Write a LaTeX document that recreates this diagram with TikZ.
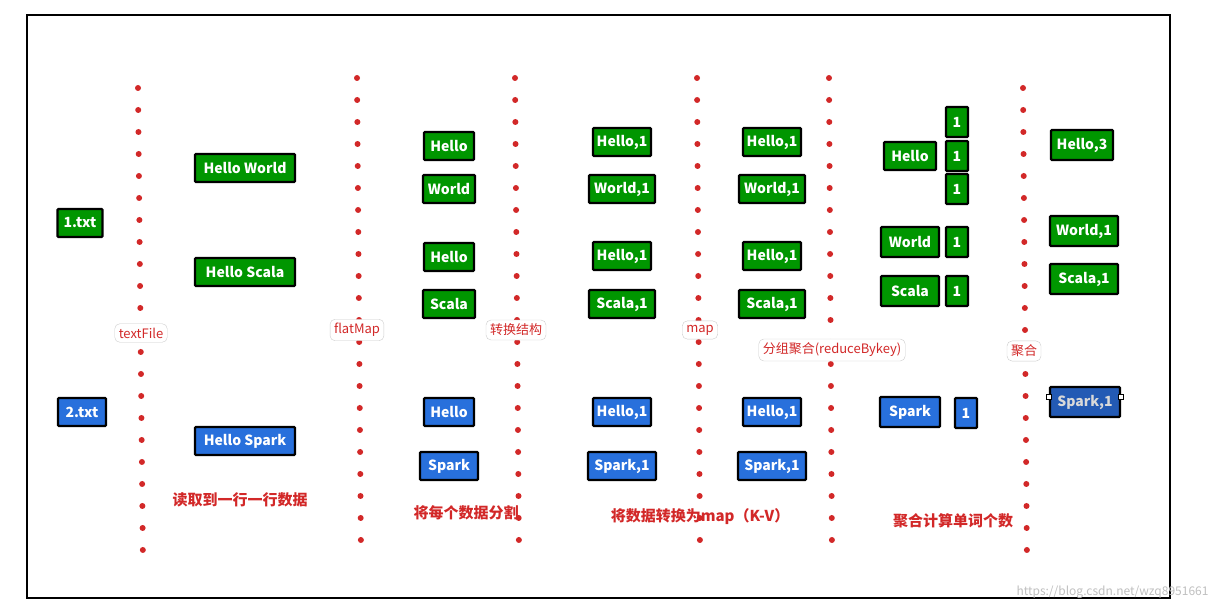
\documentclass[tikz,border=0pt]{standalone}
\usepackage{fontspec}
\setmainfont{Noto Sans CJK SC}
\definecolor{gr}{RGB}{0,150,0}
\definecolor{bl}{RGB}{40,112,220}
\definecolor{dbl}{RGB}{35,90,180}
\definecolor{rd}{RGB}{210,40,40}
\tikzset{
  box/.style={draw=black,line width=2.2pt,text=white,font=\fontsize{14}{16}\selectfont\bfseries,inner sep=0pt,minimum height=28pt,rounded corners=1pt},
  g/.style={box,fill=gr},
  b/.style={box,fill=bl},
  sep/.style={draw=rd,line width=6pt,line cap=round,dash pattern=on 0pt off 22pt},
  op/.style={draw=black!20,fill=white,rounded corners=5pt,text=rd,font=\fontsize{13}{15}\selectfont,inner sep=4pt},
  caption/.style={text=rd,font=\fontsize{15}{17}\selectfont\bfseries}
}
\begin{document}
\begin{tikzpicture}[x=1pt,y=-1pt]
\useasboundingbox (0,0) rectangle (1219,610);
\draw[line width=2pt] (27,15) rectangle (1170,598);
% separators
\foreach \a/\b/\ya/\yb in {138/143/88/565,357/361/78/555,515/519/78/555,697/700/78/555,829/832/78/555,1023/1027/88/565}
  \draw[sep] (\a,\ya) -- (\b,\yb);
% column 0
\node[g,minimum width=45pt] (f1) at (80,223) {1.txt};
\node[b,minimum width=48pt] (f2) at (82,412) {2.txt};
% column 1
\node[g,minimum width=100pt] (l1) at (245,168) {Hello World};
\node[g,minimum width=100pt] (l2) at (245,272) {Hello Scala};
\node[b,minimum width=100pt] (l3) at (245,441) {Hello Spark};
% column 2
\node[g,minimum width=50pt] (w1) at (449,146) {Hello};
\node[g,minimum width=52pt] (w2) at (449,189) {World};
\node[g,minimum width=50pt] (w3) at (449,257) {Hello};
\node[g,minimum width=52pt] (w4) at (449,304) {Scala};
\node[b,minimum width=50pt] (w5) at (449,412) {Hello};
\node[b,minimum width=58pt] (w6) at (449,466) {Spark};
% column 3 and 4
\foreach \c/\x in {p/622,q/772}{
  \node[g,minimum width=58pt] (\c1) at (\x,142) {Hello,1};
  \node[g,minimum width=66pt] (\c2) at (\x,189) {World,1};
  \node[g,minimum width=58pt] (\c3) at (\x,256) {Hello,1};
  \node[g,minimum width=66pt] (\c4) at (\x,304) {Scala,1};
  \node[b,minimum width=58pt] (\c5) at (\x,412) {Hello,1};
  \node[b,minimum width=68pt] (\c6) at (\x,466) {Spark,1};
}
% column 5
\node[g,minimum width=52pt] (r1) at (910,156) {Hello};
\node[g,minimum width=22pt,minimum height=30pt] (o1) at (957,122) {1};
\node[g,minimum width=22pt,minimum height=30pt] (o2) at (957,156) {1};
\node[g,minimum width=22pt,minimum height=30pt] (o3) at (957,189) {1};
\node[g,minimum width=58pt,minimum height=30pt] (r2) at (910,242) {World};
\node[g,minimum width=22pt,minimum height=30pt] (o4) at (957,242) {1};
\node[g,minimum width=58pt,minimum height=30pt] (r3) at (910,291) {Scala};
\node[g,minimum width=22pt,minimum height=30pt] (o5) at (957,291) {1};
\node[b,minimum width=60pt,minimum height=30pt] (r4) at (910,412) {Spark};
\node[b,minimum width=22pt,minimum height=30pt] (o6) at (966,413) {1};
% column 6
\node[g,minimum width=62pt,minimum height=30pt] (s1) at (1082,145) {Hello,3};
\node[g,minimum width=68pt,minimum height=30pt] (s2) at (1084,231) {World,1};
\node[g,minimum width=68pt,minimum height=30pt] (s3) at (1084,279) {Scala,1};
\node[box,fill=dbl,text=black!15,minimum width=70pt,minimum height=30pt] (s4) at (1085,402) {Spark,1};
\draw[fill=white,line width=0.5pt] ([xshift=-2.5pt,yshift=2.5pt]s4.west) rectangle +(5,-5);
\draw[fill=white,line width=0.5pt] ([xshift=-2.5pt,yshift=2.5pt]s4.east) rectangle +(5,-5);
% operation labels
\node[op] (t1) at (141,333) {textFile};
\node[op] (t2) at (357,330) {flatMap};
\node[op] (t3) at (516,330) {转换结构};
\node[op] (t4) at (700,330) {map};
\node[op] (t5) at (832,350) {分组聚合(reduceBykey)};
\node[op] (t6) at (1024,351) {聚合};
% captions
\node[caption] (c1) at (240,500) {读取到一行一行数据};
\node[caption] (c2) at (466,513) {将每个数据分割};
\node[caption] (c3) at (700,517) {将数据转换为map（K-V）};
\node[caption] (c4) at (953,521) {聚合计算单词个数};
\node[text=black!25,font=\fontsize{12}{14}\selectfont,anchor=east] (wm) at (1212,592) {https://blog.csdn.net/wzq8951661};
\end{tikzpicture}
\end{document}
